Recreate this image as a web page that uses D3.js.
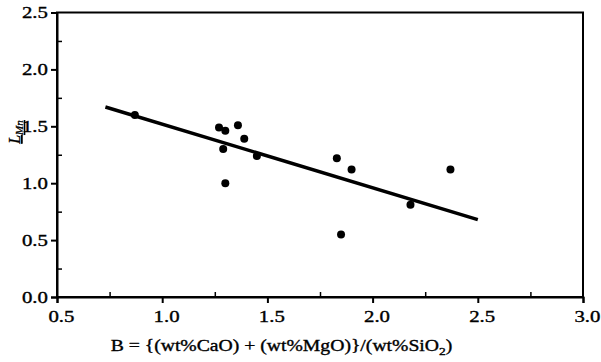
<!DOCTYPE html>
<html>
<head>
<meta charset="utf-8">
<script src="https://cdn.jsdelivr.net/npm/d3@7"></script>
<style>
  body { margin: 0; background: #fff; }
  text { font-family: "Liberation Serif", "DejaVu Serif", serif; stroke: #000; stroke-width: 0.35px; }
</style>
</head>
<body>
<div id="vizArea"></div>
<script>
// data
const basicity = [0.87, 1.27, 1.30, 1.36, 1.39, 1.29, 1.45, 1.30, 1.83, 1.90, 1.85, 2.37, 2.18];
const lmn      = [1.60, 1.49, 1.46, 1.51, 1.39, 1.30, 1.24, 1.00, 1.22, 1.12, 0.55, 1.12, 0.81];
const fitX = [0.73, 2.50];
const fitY = [1.67, 0.68];
const xTicks = [0.5, 1.0, 1.5, 2.0, 2.5, 3.0];
const yTicks = [0.0, 0.5, 1.0, 1.5, 2.0, 2.5];
const xMinor = [0.75, 1.25, 1.75, 2.25, 2.75];
const yMinor = [0.25, 0.75, 1.25, 1.75, 2.25];

const width = 601, height = 362;
const margin = {top: 12.5, right: 18, bottom: 65, left: 57};
const stretch = 1.3; // the reference text is drawn wide

const svg = d3.select("#vizArea")
    .append("svg")
    .attr("width", width)
    .attr("height", height);

const x = d3.scaleLinear()
    .domain([0.5, 3.0])
    .range([margin.left, width - margin.right]);

const y = d3.scaleLinear()
    .domain([0, 2.5])
    .range([height - margin.bottom, margin.top]);

// frame
svg.append("rect")
    .attr("x", x(0.5))
    .attr("y", y(2.5))
    .attr("width", x(3.0) - x(0.5))
    .attr("height", y(0) - y(2.5))
    .attr("fill", "none")
    .attr("stroke", "#000")
    .attr("stroke-width", 2);

// x axis
const xAxis = svg.append("g")
    .attr("transform", `translate(0,${y(0)})`)
    .call(d3.axisBottom(x).tickValues(xTicks).tickFormat(d3.format(".1f")).tickSize(6));
xAxis.select(".domain").attr("stroke-width", 2);
xAxis.selectAll(".tick line").attr("stroke-width", 2);
xAxis.selectAll(".tick text")
    .attr("font-size", 16)
    .attr("font-family", "Liberation Serif")
    .attr("x", 3)
    .attr("dy", "1em")
    .attr("transform", `scale(${stretch},1)`);

svg.append("g")
    .attr("transform", `translate(0,${y(0)})`)
    .call(d3.axisTop(x).tickValues(xMinor).tickFormat("").tickSize(5))
    .call(g => g.select(".domain").remove())
    .selectAll("line").attr("stroke-width", 1.5);

// y axis
const yAxis = svg.append("g")
    .attr("transform", `translate(${x(0.5)},0)`)
    .call(d3.axisLeft(y).tickValues(yTicks).tickFormat(d3.format(".1f")).tickSize(6));
yAxis.select(".domain").attr("stroke-width", 2);
yAxis.selectAll(".tick line").attr("stroke-width", 2);
yAxis.selectAll(".tick text")
    .attr("font-size", 16)
    .attr("font-family", "Liberation Serif")
    .attr("x", -7)
    .attr("transform", `scale(${stretch},1)`);

svg.append("g")
    .attr("transform", `translate(${x(0.5)},0)`)
    .call(d3.axisRight(y).tickValues(yMinor).tickFormat("").tickSize(5))
    .call(g => g.select(".domain").remove())
    .selectAll("line").attr("stroke-width", 1.5);

// fit line
svg.append("line")
    .attr("x1", x(fitX[0]))
    .attr("y1", y(fitY[0]))
    .attr("x2", x(fitX[1]))
    .attr("y2", y(fitY[1]))
    .attr("stroke", "#000")
    .attr("stroke-width", 3.5);

// points
svg.selectAll("circle.pt")
    .data(basicity.map((b, i) => ({b: b, l: lmn[i]})))
    .join("circle")
    .attr("class", "pt")
    .attr("cx", d => x(d.b))
    .attr("cy", d => y(d.l))
    .attr("r", 4)
    .attr("fill", "#000");

// axis titles
const xt = svg.append("g")
    .attr("transform", "translate(281.5,351) scale(1.23,1)")
    .append("text")
    .attr("text-anchor", "middle")
    .attr("font-size", 16);
xt.append("tspan").text("B = {(wt%CaO) + (wt%MgO)}/(wt%SiO");
xt.append("tspan").attr("font-size", 11).attr("dy", 4).text("2");
xt.append("tspan").attr("dy", -4).text(")");

const yt = svg.append("text")
    .attr("transform", "translate(20,132) rotate(-90)")
    .attr("text-anchor", "middle")
    .attr("font-size", 16)
    .attr("font-style", "italic")
    .attr("text-decoration", "underline");
yt.append("tspan").text("L");
yt.append("tspan").attr("font-size", 11).attr("dy", 3).text("Mn");
</script>
</body>
</html>
